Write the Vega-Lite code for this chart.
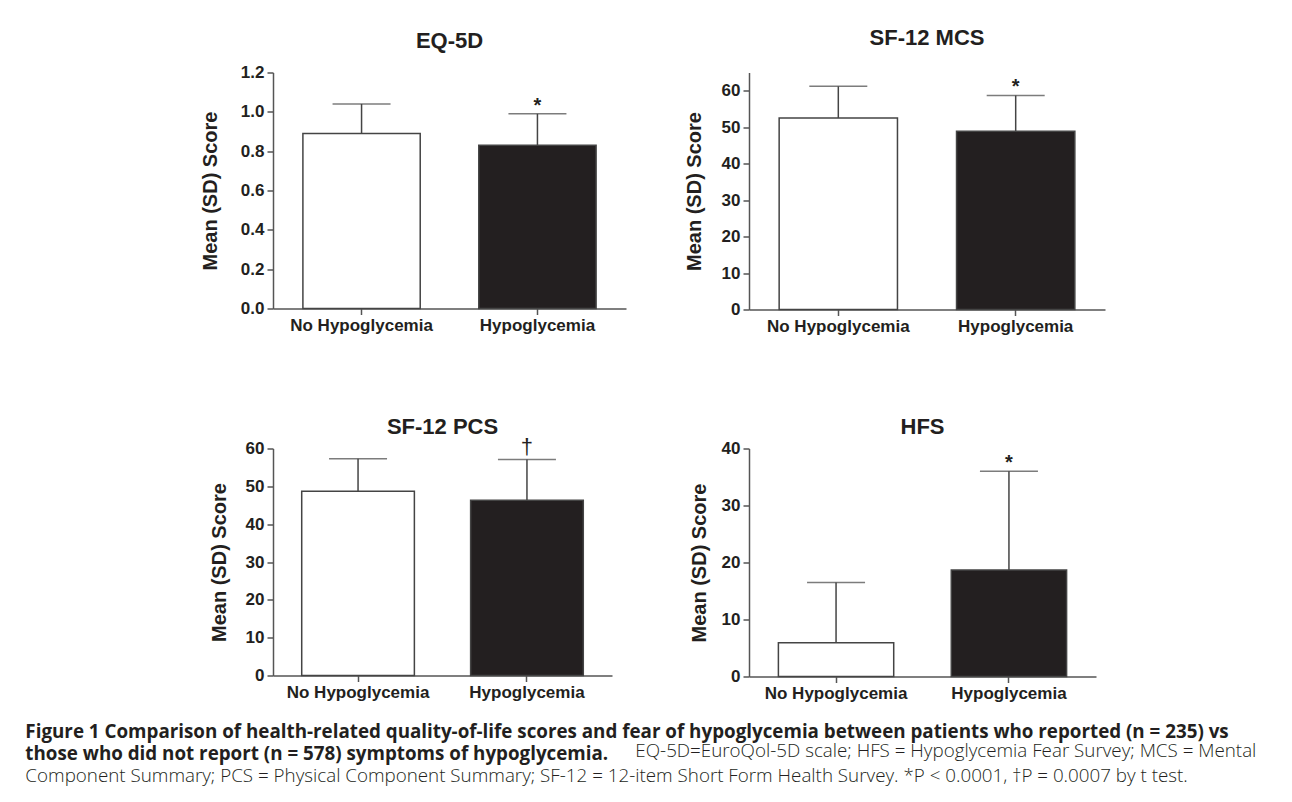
{
  "$schema": "https://vega.github.io/schema/vega-lite/v6.json",
  "background": "white",
  "padding": {"left": 25, "top": 26.5, "right": 10, "bottom": 10},
  "datasets": {
    "d": [
      {"measure": "EQ-5D", "group": "No Hypoglycemia", "mean": 0.89, "upper": 1.04, "sig": ""},
      {"measure": "EQ-5D", "group": "Hypoglycemia", "mean": 0.83, "upper": 0.99, "sig": "*"},
      {"measure": "SF-12 MCS", "group": "No Hypoglycemia", "mean": 52.5, "upper": 61.2, "sig": ""},
      {"measure": "SF-12 MCS", "group": "Hypoglycemia", "mean": 48.9, "upper": 58.7, "sig": "*"},
      {"measure": "SF-12 PCS", "group": "No Hypoglycemia", "mean": 48.7, "upper": 57.3, "sig": ""},
      {"measure": "SF-12 PCS", "group": "Hypoglycemia", "mean": 46.3, "upper": 57.1, "sig": "†"},
      {"measure": "HFS", "group": "No Hypoglycemia", "mean": 5.9, "upper": 16.5, "sig": ""},
      {"measure": "HFS", "group": "Hypoglycemia", "mean": 18.7, "upper": 36.0, "sig": "*"}
    ]
  },
  "title": {
    "text": "Component Summary; PCS = Physical Component Summary; SF-12 = 12-item Short Form Health Survey. *P < 0.0001, †P = 0.0007 by t test.",
    "orient": "bottom", "anchor": "start", "frame": "bounds", "dx": 0, "offset": 19, "baseline": "alphabetic",
    "font": "Open Sans", "fontSize": 18.8, "fontWeight": 300, "color": "#231f20"
  },
  "vconcat": [
    {
      "title": {
        "text": "EQ-5D=EuroQol-5D scale; HFS = Hypoglycemia Fear Survey; MCS = Mental",
        "orient": "bottom", "anchor": "start", "frame": "bounds", "dx": 610, "offset": -6.8, "baseline": "alphabetic",
        "font": "Open Sans", "fontSize": 18.8, "fontWeight": 300, "color": "#231f20"
      },
      "vconcat": [
        {
          "title": {
            "text": ["Figure 1 Comparison of health-related quality-of-life scores and fear of hypoglycemia between patients who reported (n = 235) vs", "those who did not report (n = 578) symptoms of hypoglycemia."],
            "orient": "bottom", "anchor": "start", "frame": "bounds", "dx": -175, "offset": 36, "baseline": "alphabetic",
            "font": "Open Sans", "fontSize": 18.8, "fontWeight": "bold", "lineHeight": 22, "color": "#231f20"
          },
          "concat": [
            {
              "width": 353, "height": 236,
              "title": {"text": "EQ-5D", "offset": 10.5},
              "data": {"name": "d"},
              "transform": [{"filter": "datum.measure === 'EQ-5D'"}],
              "encoding": {
                "x": {"field": "group", "type": "nominal", "sort": ["No Hypoglycemia", "Hypoglycemia"], "scale": {"paddingInner": 0.333, "paddingOuter": 0.17}, "axis": {"title": null, "labelAngle": 0}}
              },
              "layer": [
                {"mark": {"type": "rule", "color": "#444444", "strokeWidth": 1.5}, "encoding": {"y": {"field": "mean", "type": "quantitative", "scale": {"domain": [0, 1.2], "nice": false}, "axis": {"values": [0, 0.2, 0.4, 0.6, 0.8, 1.0, 1.2], "format": ".1f", "labelOverlap": false, "title": "Mean (SD) Score", "titlePadding": 20}}, "y2": {"field": "upper"}}},
                {"mark": {"type": "tick", "size": 58, "thickness": 1.5, "color": "#444444"}, "encoding": {"y": {"field": "upper", "type": "quantitative", "axis": {"values": [0, 0.2, 0.4, 0.6, 0.8, 1.0, 1.2], "format": ".1f", "labelOverlap": false, "title": "Mean (SD) Score", "titlePadding": 20}}}},
                {"mark": {"type": "bar", "stroke": "#444444", "strokeWidth": 1.5}, "encoding": {"y": {"field": "mean", "type": "quantitative", "axis": {"values": [0, 0.2, 0.4, 0.6, 0.8, 1.0, 1.2], "format": ".1f", "labelOverlap": false, "title": "Mean (SD) Score", "titlePadding": 20}}, "fill": {"field": "group", "type": "nominal", "scale": {"domain": ["No Hypoglycemia", "Hypoglycemia"], "range": ["#ffffff", "#231f20"]}, "legend": null}}},
                {"mark": {"type": "text", "dy": -2, "fontSize": 20, "fontWeight": "bold", "font": "Liberation Sans", "color": "#231f20", "baseline": "alphabetic"}, "encoding": {"y": {"field": "upper", "type": "quantitative", "axis": {"values": [0, 0.2, 0.4, 0.6, 0.8, 1.0, 1.2], "format": ".1f", "labelOverlap": false, "title": "Mean (SD) Score", "titlePadding": 20}}, "text": {"field": "sig"}}}
              ]
            },
            {
              "width": 356, "height": 237,
              "title": {"text": "SF-12 MCS", "offset": 18.5},
              "data": {"name": "d"},
              "transform": [{"filter": "datum.measure === 'SF-12 MCS'"}],
              "encoding": {
                "x": {"field": "group", "type": "nominal", "sort": ["No Hypoglycemia", "Hypoglycemia"], "scale": {"paddingInner": 0.333, "paddingOuter": 0.17}, "axis": {"title": null, "labelAngle": 0}}
              },
              "layer": [
                {"mark": {"type": "rule", "color": "#444444", "strokeWidth": 1.5}, "encoding": {"y": {"field": "mean", "type": "quantitative", "scale": {"domain": [0, 65], "nice": false}, "axis": {"values": [0, 10, 20, 30, 40, 50, 60], "labelOverlap": false, "title": "Mean (SD) Score", "titlePadding": 16.5}}, "y2": {"field": "upper"}}},
                {"mark": {"type": "tick", "size": 58, "thickness": 1.5, "color": "#444444"}, "encoding": {"y": {"field": "upper", "type": "quantitative", "axis": {"values": [0, 10, 20, 30, 40, 50, 60], "labelOverlap": false, "title": "Mean (SD) Score", "titlePadding": 16.5}}}},
                {"mark": {"type": "bar", "stroke": "#444444", "strokeWidth": 1.5}, "encoding": {"y": {"field": "mean", "type": "quantitative", "axis": {"values": [0, 10, 20, 30, 40, 50, 60], "labelOverlap": false, "title": "Mean (SD) Score", "titlePadding": 16.5}}, "fill": {"field": "group", "type": "nominal", "scale": {"domain": ["No Hypoglycemia", "Hypoglycemia"], "range": ["#ffffff", "#231f20"]}, "legend": null}}},
                {"mark": {"type": "text", "dy": -2, "fontSize": 20, "fontWeight": "bold", "font": "Liberation Sans", "color": "#231f20", "baseline": "alphabetic"}, "encoding": {"y": {"field": "upper", "type": "quantitative", "axis": {"values": [0, 10, 20, 30, 40, 50, 60], "labelOverlap": false, "title": "Mean (SD) Score", "titlePadding": 16.5}}, "text": {"field": "sig"}}}
              ]
            },
            {
              "width": 339, "height": 227,
              "title": {"text": "SF-12 PCS", "offset": -3},
              "data": {"name": "d"},
              "transform": [{"filter": "datum.measure === 'SF-12 PCS'"}],
              "encoding": {
                "x": {"field": "group", "type": "nominal", "sort": ["No Hypoglycemia", "Hypoglycemia"], "scale": {"paddingInner": 0.333, "paddingOuter": 0.17}, "axis": {"title": null, "labelAngle": 0}}
              },
              "layer": [
                {"mark": {"type": "rule", "color": "#444444", "strokeWidth": 1.5}, "encoding": {"y": {"field": "mean", "type": "quantitative", "scale": {"domain": [0, 60], "nice": false}, "axis": {"values": [0, 10, 20, 30, 40, 50, 60], "labelOverlap": false, "title": "Mean (SD) Score", "titlePadding": 16}}, "y2": {"field": "upper"}}},
                {"mark": {"type": "tick", "size": 58, "thickness": 1.5, "color": "#444444"}, "encoding": {"y": {"field": "upper", "type": "quantitative", "axis": {"values": [0, 10, 20, 30, 40, 50, 60], "labelOverlap": false, "title": "Mean (SD) Score", "titlePadding": 16}}}},
                {"mark": {"type": "bar", "stroke": "#444444", "strokeWidth": 1.5}, "encoding": {"y": {"field": "mean", "type": "quantitative", "axis": {"values": [0, 10, 20, 30, 40, 50, 60], "labelOverlap": false, "title": "Mean (SD) Score", "titlePadding": 16}}, "fill": {"field": "group", "type": "nominal", "scale": {"domain": ["No Hypoglycemia", "Hypoglycemia"], "range": ["#ffffff", "#231f20"]}, "legend": null}}},
                {"mark": {"type": "text", "dy": -5, "fontSize": 22, "font": "Liberation Sans", "color": "#231f20", "baseline": "alphabetic"}, "encoding": {"y": {"field": "upper", "type": "quantitative", "axis": {"values": [0, 10, 20, 30, 40, 50, 60], "labelOverlap": false, "title": "Mean (SD) Score", "titlePadding": 16}}, "text": {"field": "sig"}}}
              ]
            },
            {
              "width": 347, "height": 228,
              "title": {"text": "HFS", "offset": 1},
              "data": {"name": "d"},
              "transform": [{"filter": "datum.measure === 'HFS'"}],
              "encoding": {
                "x": {"field": "group", "type": "nominal", "sort": ["No Hypoglycemia", "Hypoglycemia"], "scale": {"paddingInner": 0.333, "paddingOuter": 0.17}, "axis": {"title": null, "labelAngle": 0}}
              },
              "layer": [
                {"mark": {"type": "rule", "color": "#444444", "strokeWidth": 1.5}, "encoding": {"y": {"field": "mean", "type": "quantitative", "scale": {"domain": [0, 40], "nice": false}, "axis": {"values": [0, 10, 20, 30, 40], "labelOverlap": false, "title": "Mean (SD) Score", "titlePadding": 12}}, "y2": {"field": "upper"}}},
                {"mark": {"type": "tick", "size": 58, "thickness": 1.5, "color": "#444444"}, "encoding": {"y": {"field": "upper", "type": "quantitative", "axis": {"values": [0, 10, 20, 30, 40], "labelOverlap": false, "title": "Mean (SD) Score", "titlePadding": 12}}}},
                {"mark": {"type": "bar", "stroke": "#444444", "strokeWidth": 1.5}, "encoding": {"y": {"field": "mean", "type": "quantitative", "axis": {"values": [0, 10, 20, 30, 40], "labelOverlap": false, "title": "Mean (SD) Score", "titlePadding": 12}}, "fill": {"field": "group", "type": "nominal", "scale": {"domain": ["No Hypoglycemia", "Hypoglycemia"], "range": ["#ffffff", "#231f20"]}, "legend": null}}},
                {"mark": {"type": "text", "dy": -2, "fontSize": 20, "fontWeight": "bold", "font": "Liberation Sans", "color": "#231f20", "baseline": "alphabetic"}, "encoding": {"y": {"field": "upper", "type": "quantitative", "axis": {"values": [0, 10, 20, 30, 40], "labelOverlap": false, "title": "Mean (SD) Score", "titlePadding": 12}}, "text": {"field": "sig"}}}
              ]
            }
          ],
          "columns": 2,
          "spacing": {"row": 139, "column": 123},
          "bounds": "flush",
          "resolve": {"scale": {"x": "independent", "y": "independent", "fill": "independent"}}
        }
      ]
    }
  ],
  "config": {
    "view": {"stroke": null},
    "axis": {"grid": false, "labelFont": "Liberation Sans", "titleFont": "Liberation Sans", "labelFontWeight": "bold", "titleFontWeight": "bold", "labelFontSize": 17, "titleFontSize": 20, "labelColor": "#231f20", "titleColor": "#231f20", "domainColor": "#555555", "tickColor": "#555555", "domainWidth": 1.5, "tickWidth": 1.5, "tickSize": 6, "labelPadding": 3},
    "title": {"font": "Liberation Sans", "fontSize": 22, "fontWeight": "bold", "color": "#231f20", "anchor": "middle", "baseline": "alphabetic"}
  }
}
